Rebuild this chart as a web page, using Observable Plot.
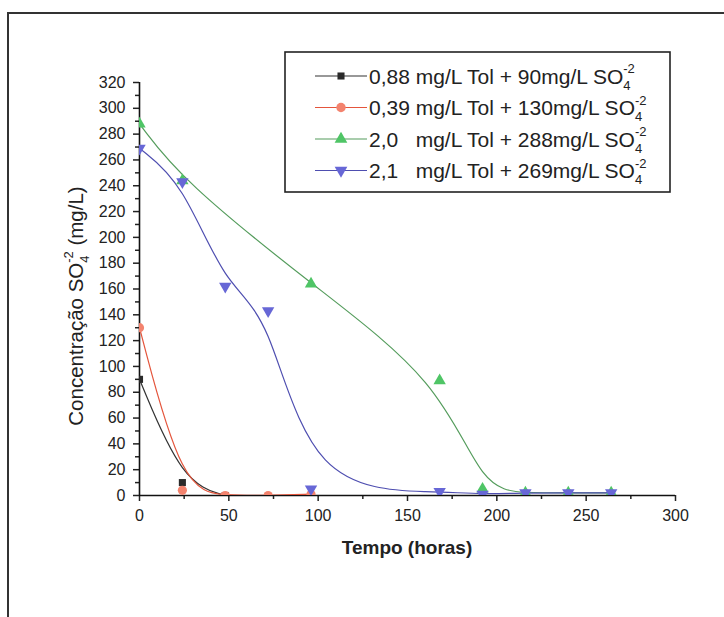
<!DOCTYPE html>
<html>
<head>
<meta charset="utf-8">
<script src="https://cdn.jsdelivr.net/npm/d3@7"></script>
<script src="https://cdn.jsdelivr.net/npm/@observablehq/plot@0.6"></script>
<style>
  body { margin: 0; background: #fff; }
  #chart svg { display: block; }
</style>
</head>
<body>
<div id="chart"></div>
<script>
// ---- Data ----
const t1 = [0, 24, 48];
const c1 = [90, 10, 0];
const t2 = [0, 24, 48, 72, 96];
const c2 = [130, 4, 0, 0, 1];
const t3 = [0, 24, 96, 168, 192, 216, 240, 264];
const c3 = [288, 244, 164, 89, 5, 2, 2, 2];
const t4 = [0, 24, 48, 72, 96, 168, 192, 216, 240, 264];
const c4 = [269, 243, 162, 143, 5, 3, 1, 2, 2, 2];

const seriesNames = ["0,88 mg/L Tol + 90mg/L SO", "0,39 mg/L Tol + 130mg/L SO", "2,0   mg/L Tol + 288mg/L SO", "2,1   mg/L Tol + 269mg/L SO"];
const xTicks = [0, 50, 100, 150, 200, 250, 300];
const yTicks = [0, 20, 40, 60, 80, 100, 120, 140, 160, 180, 200, 220, 240, 260, 280, 300, 320];
const xTitle = "Tempo (horas)";
const yTitleMain = "Concentração SO";
const yTitleUnit = " (mg/L)";

// ---- styling ----
const lineColors = ["#333333", "#e4553c", "#549c5c", "#4e4eb0"];
const fillColors = ["#2a2a2a", "#f3836e", "#4fc566", "#6767d6"];

const triangleDown = {
  draw(context, size) {
    const y = -Math.sqrt(size / (Math.sqrt(3) * 3));
    context.moveTo(0, -2 * y);
    context.lineTo(-Math.sqrt(3) * y, y);
    context.lineTo(Math.sqrt(3) * y, y);
    context.closePath();
  }
};
const symbols = ["square", "circle", "triangle", triangleDown];
const d3Symbols = [d3.symbolSquare, d3.symbolCircle, d3.symbolTriangle, triangleDown];

const series = [[t1, c1], [t2, c2], [t3, c3], [t4, c4]].map(([t, c], i) =>
  t.map((x, j) => ({x, y: c[j], s: i}))
);

const marks = [
  Plot.axisY({ticks: yTicks, tickSize: 6, tickPadding: 8, label: null, strokeWidth: 1.5, fill: "#222"}),
  Plot.axisY({ticks: d3.range(10, 320, 20), tickSize: 4, text: null, label: null, strokeWidth: 1.5}),
  Plot.axisX({ticks: xTicks, tickSize: 6, tickPadding: 8, label: null, strokeWidth: 1.5, fill: "#222"}),
  Plot.axisX({ticks: d3.range(25, 300, 50), tickSize: 4, text: null, label: null, strokeWidth: 1.5}),
  Plot.ruleX([0], {stroke: "#111", strokeWidth: 1.6}),
  Plot.ruleY([0], {stroke: "#111", strokeWidth: 1.6})
];
series.forEach((data, i) => {
  marks.push(Plot.line(data, {x: "x", y: "y", curve: "basis", stroke: lineColors[i], strokeWidth: 1.2, clip: true}));
});
series.forEach((data, i) => {
  marks.push(Plot.dot(data, {x: "x", y: "y", symbol: symbols[i], r: i === 0 ? 4 : 4.6, fill: fillColors[i], stroke: "none", clip: true}));
});

const chart = Plot.plot({
  width: 724,
  height: 617,
  marginLeft: 139,
  marginRight: 49,
  marginTop: 82,
  marginBottom: 122,
  x: {domain: [0, 300]},
  y: {domain: [0, 320]},
  style: {fontFamily: "'Liberation Sans', Arial, sans-serif", fontSize: "16px", background: "#fff", color: "#222"},
  marks
});
document.getElementById("chart").appendChild(chart);

const svg = d3.select(chart);
const font = "'Liberation Sans', Arial, sans-serif";

// outer frame (scanned figure border)
svg.append("path").attr("d", "M8,617 L8,13 L724,13").attr("fill", "none").attr("stroke", "#333").attr("stroke-width", 2);

// x title
svg.append("text")
  .attr("x", 407).attr("y", 554)
  .attr("text-anchor", "middle")
  .attr("font-family", font).attr("font-size", 19).attr("font-weight", "bold").attr("fill", "#222")
  .text(xTitle);

// text with stacked SO4 sub/superscript
function addSO4(textSel, main, after, size) {
  const small = Math.round(size * 0.62);
  textSel.append("tspan").text(main);
  textSel.append("tspan").attr("font-size", small).attr("dy", size * 0.3).text("4");
  textSel.append("tspan").attr("font-size", small).attr("dx", -small * 0.56).attr("dy", -size * 0.8).text("-2");
  if (after) textSel.append("tspan").attr("dy", size * 0.5).text(after);
}
const yt = svg.append("text")
  .attr("transform", "translate(83,306) rotate(-90)")
  .attr("text-anchor", "middle")
  .attr("font-family", font).attr("font-size", 20.5).attr("fill", "#222");
addSO4(yt, yTitleMain, yTitleUnit, 20.5);

// legend
const lg = svg.append("g");
lg.append("rect").attr("x", 285).attr("y", 52).attr("width", 385).attr("height", 140)
  .attr("fill", "#fff").attr("stroke", "#222").attr("stroke-width", 1.6);
seriesNames.forEach((name, i) => {
  const cy = 76 + i * 31.5;
  lg.append("line").attr("x1", 315).attr("x2", 367).attr("y1", cy).attr("y2", cy)
    .attr("stroke", lineColors[i]).attr("stroke-width", 1.2);
  lg.append("path")
    .attr("d", d3.symbol(d3Symbols[i], i === 0 ? 50 : 70)())
    .attr("transform", `translate(341,${cy})`)
    .attr("fill", fillColors[i]);
  const tx = lg.append("text")
    .attr("x", 369).attr("y", cy + 7.5)
    .attr("text-anchor", "start")
    .attr("font-family", font).attr("font-size", 21).attr("fill", "#222")
    .style("white-space", "pre");
  addSO4(tx, name, null, 21);
});
</script>
</body>
</html>
